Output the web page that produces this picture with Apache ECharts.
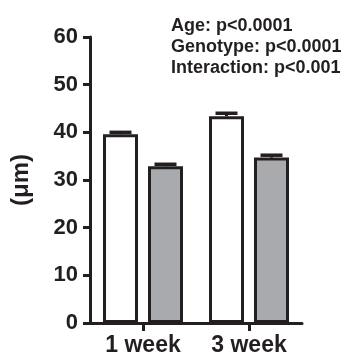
<!DOCTYPE html>
<html>
<head>
<meta charset="utf-8">
<script src="https://cdn.jsdelivr.net/npm/echarts@6/dist/echarts.min.js"></script>
<style>
  html, body { margin: 0; padding: 0; background: #ffffff; }
  #chart { width: 347px; height: 360px; }
</style>
</head>
<body>
<div id="chart"></div>
<script>
// Mean diameter (µm) by age, two genotypes, with SEM
const categories = ['1 week', '3 week'];
const whiteValues = [39.6, 43.4];
const whiteErrors = [0.4, 0.6];
const grayValues = [32.9, 34.7];
const grayErrors = [0.4, 0.5];
const yMin = 0;
const yMax = 60;
const yStep = 10;
const axisTitle = '(μm)';
const statsLines = ['Age: p<0.0001', 'Genotype: p<0.0001', 'Interaction: p<0.001'];

const ink = '#231f20';
const fontFamily = '"Liberation Sans", Arial, Helvetica, sans-serif';
const barWidth = 35;
const barGapPx = 10;
const barOffset = (barWidth + barGapPx) / 2;

// Upper-only SEM whisker with a short cap, GraphPad style
function errorSeries(values, errors, offset) {
  return {
    type: 'custom',
    z: 5,
    silent: true,
    data: values.map((v, i) => [i, v, v + errors[i]]),
    encode: { x: 0, y: [1, 2] },
    renderItem: function (params, api) {
      const base = api.coord([api.value(0), api.value(1)]);
      const top = api.coord([api.value(0), api.value(2)]);
      const cx = base[0] + offset;
      return {
        type: 'group',
        children: [
          { type: 'line', shape: { x1: cx, y1: base[1], x2: cx, y2: top[1] },
            style: { stroke: ink, lineWidth: 3 } },
          { type: 'line', shape: { x1: cx - 11, y1: top[1], x2: cx + 11, y2: top[1] },
            style: { stroke: ink, lineWidth: 3.5 } }
        ]
      };
    }
  };
}

const chart = echarts.init(document.getElementById('chart'), null, { renderer: 'canvas' });
chart.setOption({
  animation: false,
  backgroundColor: '#ffffff',
  grid: { left: 90, right: 45, top: 37, bottom: 37, containLabel: false, outerBoundsMode: 'none' },
  xAxis: {
    type: 'category',
    data: categories,
    boundaryGap: true,
    axisLine: { show: true, lineStyle: { color: ink, width: 3 } },
    axisTick: { show: true, alignWithLabel: true, length: 8, lineStyle: { color: ink, width: 3 } },
    axisLabel: { color: ink, fontFamily: fontFamily, fontWeight: 'bold', fontSize: 23, margin: 11 },
    splitLine: { show: false }
  },
  yAxis: {
    type: 'value',
    min: yMin,
    max: yMax,
    interval: yStep,
    name: axisTitle,
    nameLocation: 'middle',
    nameRotate: 90,
    nameGap: 57,
    nameTextStyle: { color: ink, fontFamily: fontFamily, fontWeight: 'bold', fontSize: 24 },
    axisLine: { show: true, lineStyle: { color: ink, width: 3 } },
    axisTick: { show: true, length: 7, lineStyle: { color: ink, width: 3 } },
    axisLabel: { color: ink, fontFamily: fontFamily, fontWeight: 'bold', fontSize: 22, margin: 12 },
    splitLine: { show: false }
  },
  series: [
    {
      type: 'bar',
      data: whiteValues,
      barWidth: barWidth,
      barGap: (barGapPx / barWidth * 100) + '%',
      itemStyle: { color: '#ffffff', borderColor: ink, borderWidth: 3 },
      z: 3
    },
    {
      type: 'bar',
      data: grayValues,
      barWidth: barWidth,
      itemStyle: { color: '#a8aaad', borderColor: ink, borderWidth: 3 },
      z: 3
    },
    errorSeries(whiteValues, whiteErrors, -barOffset),
    errorSeries(grayValues, grayErrors, barOffset)
  ],
  graphic: [
    {
      type: 'text',
      left: 171,
      top: 16,
      style: {
        text: statsLines.join('\n'),
        fill: ink,
        font: 'bold 18px ' + fontFamily,
        lineHeight: 21
      }
    }
  ]
});
</script>
</body>
</html>
